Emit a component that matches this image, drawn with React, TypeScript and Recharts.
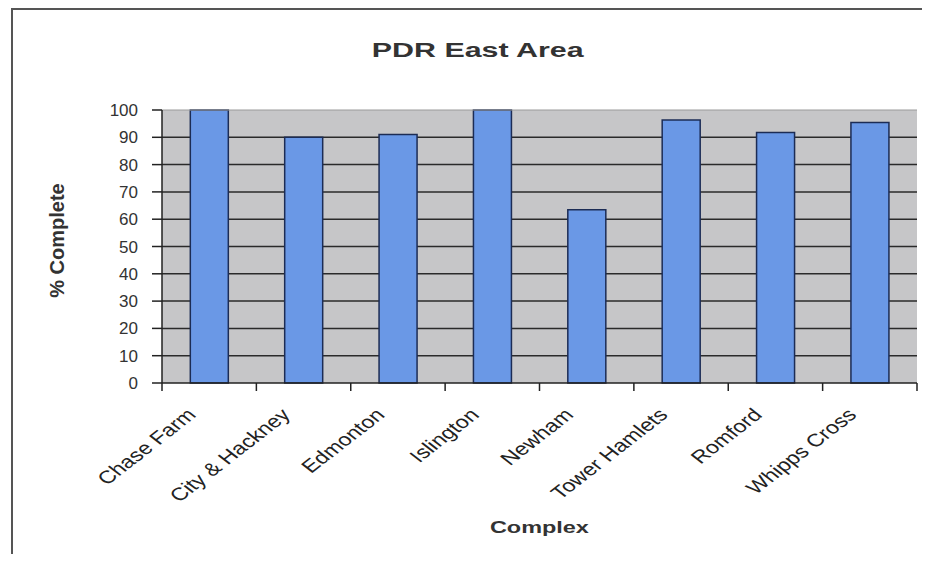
import { BarChart, Bar, XAxis, YAxis, CartesianGrid, ReferenceLine } from "recharts";

const complexes = [
  "Chase Farm",
  "City & Hackney",
  "Edmonton",
  "Islington",
  "Newham",
  "Tower Hamlets",
  "Romford",
  "Whipps Cross",
];
const percentComplete = [100, 90, 91, 100, 63.5, 96.3, 91.8, 95.4];
const yTicks = [0, 10, 20, 30, 40, 50, 60, 70, 80, 90, 100];
const gridValues = [10, 20, 30, 40, 50, 60, 70, 80, 90];

const data = complexes.map((name, i) => ({ name, value: percentComplete[i] }));

const W = 930;
const H = 562;
const margin = { top: 110, right: 13, left: 0, bottom: 24 };
const Y_AXIS_W = 162;
const STEP = (W - margin.left - margin.right - Y_AXIS_W) / complexes.length;
const font = "'Liberation Sans', Arial, sans-serif";

// the scanned original has its lettering stretched sideways
const stretch = (sx: number) => ({
  transformBox: "fill-box" as const,
  transformOrigin: "center",
  transform: `scaleX(${sx})`,
});

function CategoryTick(props: any) {
  const { x, y, payload, index } = props;
  const ax = x - 12;
  const ay = y + 33;
  return (
    <g>
      {index === 0 && (
        <line x1={x - STEP / 2} y1={y} x2={x - STEP / 2} y2={y + 8} stroke="#222" strokeWidth={1.5} />
      )}
      <line x1={x + STEP / 2} y1={y} x2={x + STEP / 2} y2={y + 8} stroke="#222" strokeWidth={1.5} />
      <text
        x={0}
        y={0}
        transform={`translate(${ax}, ${ay}) scale(1.29, 1) rotate(-45)`}
        textAnchor="end"
        fontSize={18}
        fontFamily={font}
        fill="#222"
      >
        {payload.value}
      </text>
    </g>
  );
}

export default function App() {
  return (
    <div style={{ position: "relative", width: W, height: H, margin: -8, overflow: "hidden", background: "#fff" }}>
      <div
        style={{
          position: "absolute",
          left: 11,
          top: 8,
          width: W,
          height: H,
          borderLeft: "2px solid #555",
          borderTop: "2px solid #555",
        }}
      />
      <div
        style={{
          position: "absolute",
          top: 39,
          left: 0,
          width: 956,
          textAlign: "center",
          fontFamily: font,
          fontWeight: "bold",
          fontSize: 20,
          color: "#333",
        }}
      >
        <span style={{ display: "inline-block", transform: "scaleX(1.52)" }}>PDR East Area</span>
      </div>
      <BarChart width={W} height={H} data={data} margin={margin} barCategoryGap="30%">
        <CartesianGrid
          fill="#c6c6c8"
          vertical={false}
          horizontalValues={gridValues}
          stroke="#2a2a2a"
          strokeWidth={1.5}
          strokeOpacity={1}
        />
        <XAxis
          dataKey="name"
          interval={0}
          tickLine={false}
          tickSize={0}
          tickMargin={0}
          axisLine={{ stroke: "#222", strokeWidth: 1.5 }}
          tick={<CategoryTick />}
          height={155}
          label={{
            value: "Complex",
            position: "insideBottom",
            offset: 5,
            style: { fontFamily: font, fontWeight: "bold", fontSize: 17, fill: "#333", ...stretch(1.38) },
          }}
        />
        <YAxis
          domain={[0, 100]}
          ticks={yTicks}
          interval={0}
          width={Y_AXIS_W}
          tickSize={10}
          tickMargin={14}
          tickLine={{ stroke: "#222", strokeWidth: 1.5 }}
          axisLine={{ stroke: "#222", strokeWidth: 1.5 }}
          tick={{ fontSize: 17, fontFamily: font, fill: "#333" }}
          label={{
            value: "% Complete",
            angle: -90,
            position: "insideLeft",
            offset: 57,
            dy: -6,
            style: { textAnchor: "middle", fontFamily: font, fontWeight: "bold", fontSize: 20, fill: "#333" },
          }}
        />
        <YAxis
          yAxisId="frame"
          orientation="right"
          domain={[0, 100]}
          width={0}
          tick={false}
          tickLine={false}
          axisLine={{ stroke: "#9a9a9a", strokeWidth: 1 }}
        />
        <ReferenceLine y={100} stroke="#9a9a9a" strokeWidth={1} />
        <Bar dataKey="value" fill="#6a98e6" stroke="#1c2c55" strokeWidth={1.5} isAnimationActive={false} />
      </BarChart>
    </div>
  );
}
